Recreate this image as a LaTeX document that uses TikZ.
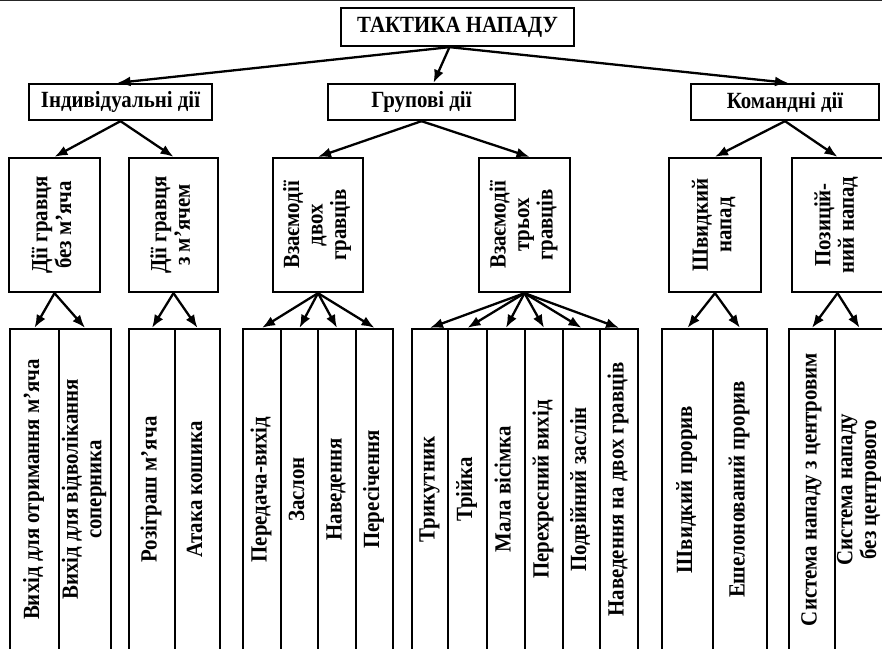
\documentclass[tikz,border=0pt]{standalone}
\usepackage{fontspec}
\setmainfont{Liberation Serif}[FakeStretch=0.9]
\usetikzlibrary{arrows.meta}

% text turned to read from bottom to top, lines centred
\newcommand\uprot[1]{\rotatebox{90}{\begin{tabular}{@{}c@{}}#1\end{tabular}}}
% one narrow column of the lowest row: name, left x, right x, text
\newcommand\colbox[4]{%
  \node[box, minimum width={#3-#2}, minimum height=321] (#1) at ({(#2+#3)/2},489.5) {\uprot{#4}};}

\begin{document}
\begin{tikzpicture}[x=1pt, y=-1pt,
  box/.style={draw, line width=2.3pt, inner sep=0pt, align=center,
              font=\bfseries\fontsize{23.2}{23.5}\selectfont},
  headbox/.style={box, minimum height=36},
  midbox/.style={box, minimum height=134},
  link/.style={line width=2.3pt, -{Latex[length=13pt, width=10pt]}},
]
\clip (0,0) rectangle (882,648);
\fill[white] (0,0) rectangle (882,648);
\draw[black!85, line width=1.5pt] (0,0.6) -- (882,0.6);

% root
\node[box, minimum width=233, minimum height=38] (top) at (457.5,27) {ТАКТИКА НАПАДУ};

% second level
\node[headbox, minimum width=183] (ind) at (120.5,102) {Індивідуальні дії};
\node[headbox, minimum width=187] (grp) at (421.5,102) {Групові дії};
\node[headbox, minimum width=188] (kom) at (785,102) {Командні дії};

% third level
\node[midbox, minimum width=91] (a1) at (54.5,225) {\uprot{Дії гравця\\без м’яча}};
\node[midbox, minimum width=89] (a2) at (173.5,225) {\uprot{Дії гравця\\з м’ячем}};
\node[midbox, minimum width=90] (b1) at (318,225) {\uprot{Взаємодії\\двох\\гравців}};
\node[midbox, minimum width=91] (b2) at (524.5,225) {\uprot{Взаємодії\\трьох\\гравців}};
\node[midbox, minimum width=92] (c1) at (715,225) {\uprot{Швидкий\\напад}};
\node[midbox, minimum width=91] (c2) at (837.5,225) {\uprot{Позицій-\\ний напад}};

% lowest level
\colbox{v1}{10}{59}{Вихід для отримання м’яча}
\colbox{v2}{59}{111}{Вихід для відволікання\\соперника}
\colbox{v3}{129}{175}{Розіграш м’яча}
\colbox{v4}{175}{220}{Атака кошика}
\colbox{v5}{243}{281}{Передача-вихід}
\colbox{v6}{281}{318}{Заслон}
\colbox{v7}{318}{356}{Наведення}
\colbox{v8}{356}{393}{Пересічення}
\colbox{v9}{412}{448}{Трикутник}
\colbox{v10}{448}{487}{Трійка}
\colbox{v11}{487}{525}{Мала вісімка}
\colbox{v12}{525}{563}{Перехресний вихід}
\colbox{v13}{563}{600}{Подвійний заслін}
\colbox{v14}{600}{638}{Наведення на двох гравців}
\colbox{v15}{662}{713}{Швидкий прорив}
\colbox{v16}{713}{767}{Ешелонований прорив}
\colbox{v17}{789}{835}{Система нападу з центровим}
\colbox{v18}{835}{884}{Система нападу\\без центрового}

% connectors
\coordinate (root) at ([xshift=-8pt]top.south);
\draw[link] (root) -- ([xshift=-3pt]ind.north);
\draw[link] (root) -- ([xshift=12pt]grp.north);
\draw[link] (root) -- ([xshift=3pt]kom.north);

\draw[link] (ind.south) -- (a1.north);
\draw[link] (ind.south) -- (a2.north);
\draw[link] (grp.south) -- (b1.north);
\draw[link] (grp.south) -- ([xshift=5pt]b2.north);
\draw[link] (kom.south) -- (c1.north);
\draw[link] (kom.south) -- (c2.north);

\foreach \c in {v1,v2} \draw[link] (a1.south) -- (\c.north);
\foreach \c in {v3,v4} \draw[link] (a2.south) -- (\c.north);
\foreach \c in {v5,v6,v7,v8} \draw[link] (b1.south) -- (\c.north);
\foreach \c in {v9,v10,v11,v12,v13,v14} \draw[link] (b2.south) -- (\c.north);
\foreach \c in {v15,v16} \draw[link] (c1.south) -- (\c.north);
\foreach \c in {v17,v18} \draw[link] (c2.south) -- (\c.north);
\end{tikzpicture}
\end{document}
